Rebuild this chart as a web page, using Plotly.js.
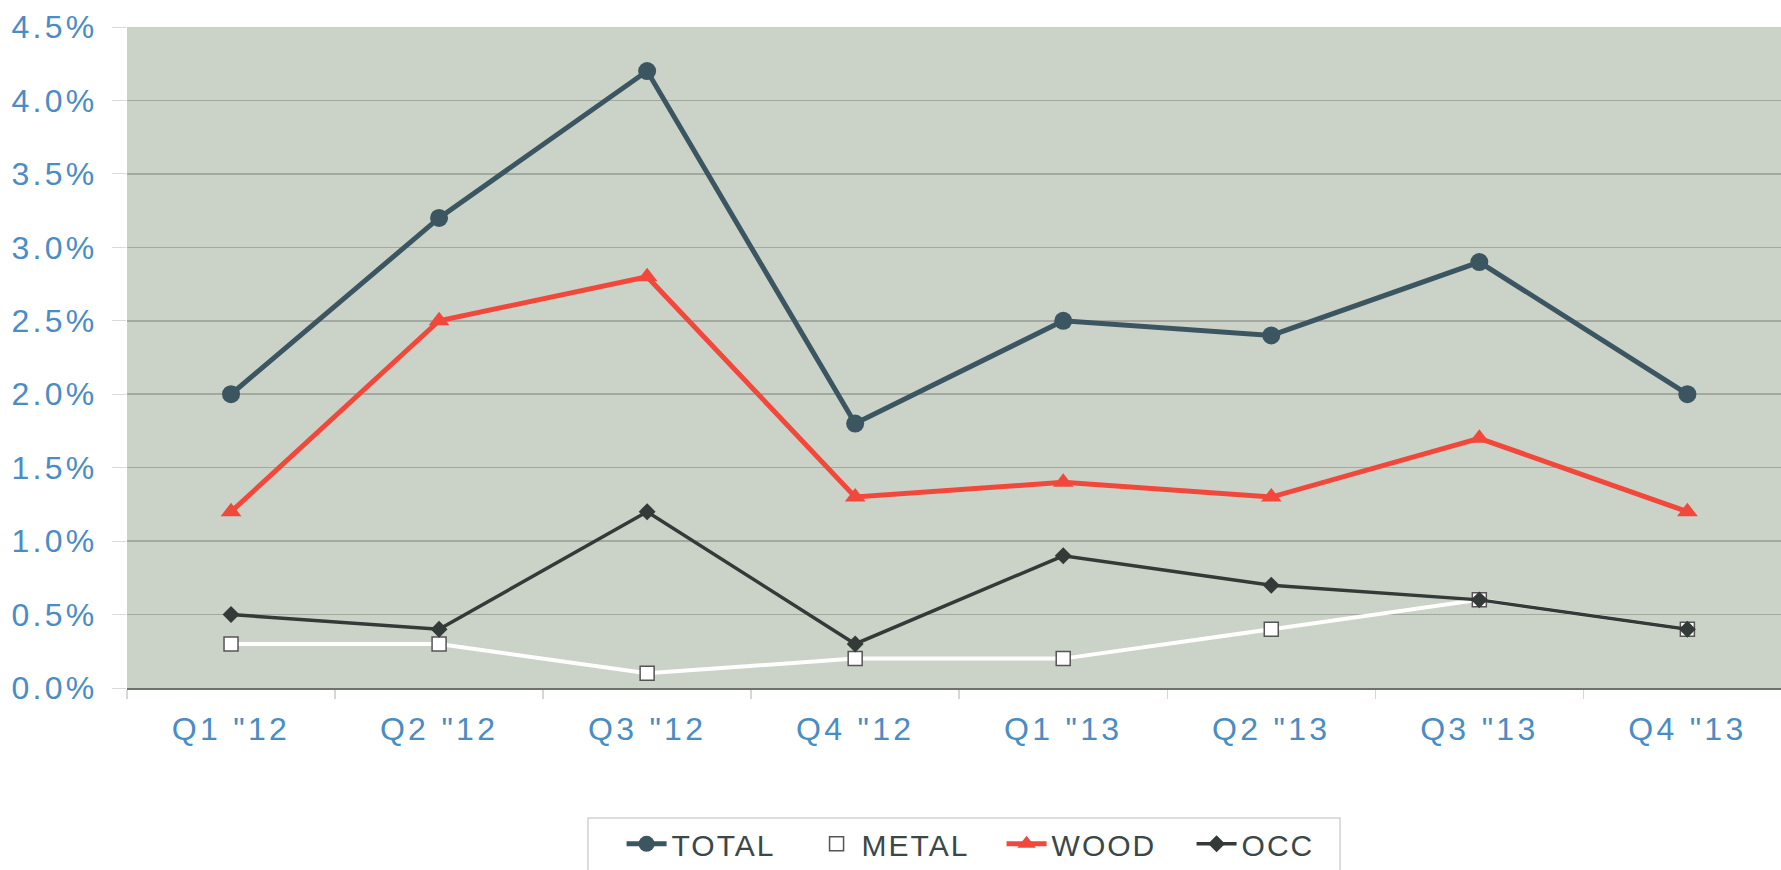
<!DOCTYPE html>
<html>
<head>
<meta charset="utf-8">
<script src="https://cdn.plot.ly/plotly-3.0.1.min.js"></script>
<style>
html,body{margin:0;padding:0;background:#ffffff;}
#chart{width:1781px;height:870px;}
#chart .xtick text, #chart .ytick text{letter-spacing:3.3px;}
.legendtext{letter-spacing:2px;}
</style>
</head>
<body>
<div id="chart"></div>
<script>
const categories = ['Q1 "12','Q2 "12','Q3 "12','Q4 "12','Q1 "13','Q2 "13','Q3 "13','Q4 "13'];
const total = [2.0, 3.2, 4.2, 1.8, 2.5, 2.4, 2.9, 2.0];
const metal = [0.3, 0.3, 0.1, 0.2, 0.2, 0.4, 0.6, 0.4];
const wood  = [1.2, 2.5, 2.8, 1.3, 1.4, 1.3, 1.7, 1.2];
const occ   = [0.5, 0.4, 1.2, 0.3, 0.9, 0.7, 0.6, 0.4];
const yTicks = [0, 0.5, 1.0, 1.5, 2.0, 2.5, 3.0, 3.5, 4.0, 4.5];

const xIdx = categories.map((c, i) => i);

const traces = [
  {name:'TOTAL', x:xIdx, y:total, mode:'lines+markers', type:'scatter',
   line:{color:'#3b5661', width:5},
   marker:{symbol:'circle', size:18, color:'#3b5661'}},
  {name:'METAL', x:xIdx, y:metal, mode:'lines+markers', type:'scatter',
   line:{color:'#ffffff', width:4},
   marker:{symbol:'square', size:14, color:'#ffffff', line:{color:'#555555', width:1.5}}},
  {name:'WOOD', x:xIdx, y:wood, mode:'lines+markers', type:'scatter',
   line:{color:'#f2483b', width:5},
   marker:{symbol:'triangle-up', size:18, color:'#f2483b'}},
  {name:'OCC', x:xIdx, y:occ, mode:'lines+markers', type:'scatter',
   line:{color:'#333a38', width:3.5},
   marker:{symbol:'diamond', size:13, color:'#333a38'}}
];

const tickFont = {family:'Liberation Sans, Arial, sans-serif', size:32, color:'#4a8cc4'};

const layout = {
  width:1781, height:870,
  margin:{l:127, r:0, t:27, b:182},
  paper_bgcolor:'#ffffff',
  plot_bgcolor:'#cbd2c7',
  showlegend:true,
  legend:{
    orientation:'h', xref:'container', yref:'container',
    x:0.349, xanchor:'left', y:0.06, yanchor:'top',
    bgcolor:'rgba(0,0,0,0)', borderwidth:0,
    font:{family:'Liberation Sans, Arial, sans-serif', size:30, color:'#3a4848'},
    itemwidth:40, entrywidth:135, entrywidthmode:'pixels', traceorder:'normal'
  },
  shapes:[{
    type:'rect', xref:'paper', yref:'paper',
    x0:0.2787, x1:0.7334, y0:-0.29, y1:-0.1967,
    line:{color:'#d2d2d2', width:1.5}, fillcolor:'rgba(0,0,0,0)', layer:'below'
  }],
  xaxis:{
    range:[-0.5, 7.45],
    tickmode:'array', tickvals:xIdx, ticktext:categories,
    tickfont:tickFont,
    showgrid:false, zeroline:false,
    showline:true, linecolor:'#6e726c', linewidth:2,
    ticks:'outside', ticklen:12, tickcolor:'rgba(0,0,0,0)',
    minor:{tickmode:'linear', tick0:-0.5, dtick:1, ticks:'outside', ticklen:9, tickcolor:'#d6d8d4', tickwidth:1.5, showgrid:false},
    fixedrange:true
  },
  yaxis:{
    range:[0, 4.5],
    tickmode:'array', tickvals:yTicks,
    ticktext:yTicks.map(v => v.toFixed(1) + '%'),
    tickfont:tickFont,
    showgrid:true, gridcolor:'#a3a9a0', gridwidth:1.5,
    zeroline:false, showline:false,
    ticks:'outside', ticklen:14, tickcolor:'#d8dbd6',
    ticklabelstandoff:8,
    fixedrange:true
  }
};

Plotly.newPlot('chart', traces, layout, {displayModeBar:false, staticPlot:true});
</script>
</body>
</html>
